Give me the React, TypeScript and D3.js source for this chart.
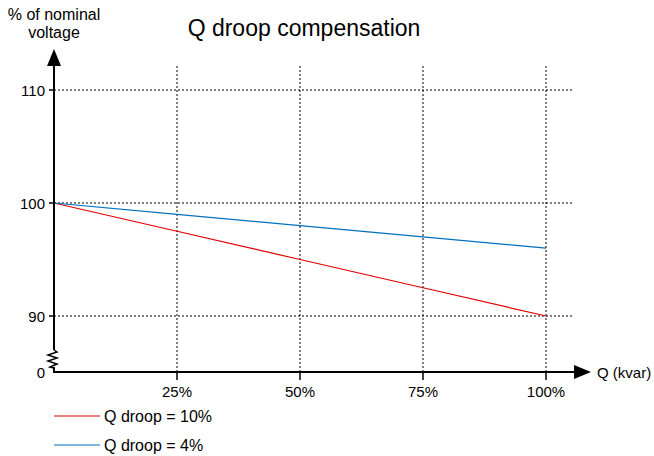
import React from "react";
import * as d3 from "d3";

const qLevels = [0, 25, 50, 75, 100];
const xTickLabels = ["25%", "50%", "75%", "100%"];
const xTickValues = [25, 50, 75, 100];
const yTickValues = [90, 100, 110];
const droop10 = [100, 97.5, 95, 92.5, 90];
const droop4 = [100, 99, 98, 97, 96];
const seriesNames = ["Q droop = 10%", "Q droop = 4%"];
const seriesColors = ["#e00000", "#0070c0"];

const W = 654;
const H = 456;
const left = 54;
const baseY = 372;
const font = "'Liberation Sans', Arial, sans-serif";

export default function App() {
  const x = d3.scaleLinear().domain([0, 100]).range([left, 546]);
  const y = d3.scaleLinear().domain([90, 110]).range([316, 90]);
  const line = d3
    .line<number>()
    .x((_, i) => x(qLevels[i]))
    .y((d) => y(d));
  const series = [droop10, droop4];
  const gridRight = 572;
  const gridTop = 66;
  const zz = [350, 367];
  const zigzag = `M${left},${zz[0]} L${left + 3},${zz[0] + 2} L${left - 6},${zz[0] + 5} L${left + 3},${zz[0] + 8} L${left - 6},${zz[0] + 11} L${left + 3},${zz[0] + 14} L${left - 4},${zz[1]} L${left},${zz[1] + 1}`;
  return (
    <svg
      width={W}
      height={H}
      style={{ position: "absolute", left: 0, top: 0, background: "#fff" }}
      fontFamily={font}
    >
      <rect width={W} height={H} fill="#fff" />
      <text x={304} y={36} fontSize={23} textAnchor="middle" fill="#000">
        Q droop compensation
      </text>
      <text x={54} y={20} fontSize={16} textAnchor="middle" fill="#000">
        % of nominal
      </text>
      <text x={54} y={38} fontSize={16} textAnchor="middle" fill="#000">
        voltage
      </text>
      {/* horizontal gridlines */}
      {yTickValues.map((v) => (
        <g key={v}>
          <line x1={left} x2={gridRight} y1={y(v)} y2={y(v)} stroke="#000" strokeWidth={1} strokeDasharray="2,2" />
          <line x1={left - 5} x2={left} y1={y(v)} y2={y(v)} stroke="#000" strokeWidth={1.5} />
          <text x={45} y={y(v) + 6} fontSize={15} textAnchor="end" fill="#000">
            {v}
          </text>
        </g>
      ))}
      {/* vertical gridlines */}
      {xTickValues.map((v, i) => (
        <g key={v}>
          <line x1={x(v)} x2={x(v)} y1={gridTop} y2={baseY} stroke="#000" strokeWidth={1} strokeDasharray="2,2" />
          <line x1={x(v)} x2={x(v)} y1={baseY} y2={baseY + 8} stroke="#000" strokeWidth={1.5} />
          <text x={x(v)} y={baseY + 25} fontSize={15} textAnchor="middle" fill="#000">
            {xTickLabels[i]}
          </text>
        </g>
      ))}
      <text x={45} y={baseY + 6} fontSize={15} textAnchor="end" fill="#000">
        0
      </text>
      {/* series */}
      {series.map((s, i) => (
        <path key={i} d={line(s) || ""} fill="none" stroke={seriesColors[i]} strokeWidth={1.2} />
      ))}
      {/* y axis */}
      <line x1={left} x2={left} y1={64} y2={zz[0]} stroke="#000" strokeWidth={2} />
      <path d={zigzag} fill="none" stroke="#000" strokeWidth={1.5} />
      <line x1={left} x2={left} y1={zz[1]} y2={baseY + 1} stroke="#000" strokeWidth={2} />
      <path d={`M${left},49 L${left - 7},66 L${left + 7},66 Z`} fill="#000" />
      {/* x axis */}
      <line x1={left - 1} x2={577} y1={baseY} y2={baseY} stroke="#000" strokeWidth={2} />
      <path d={`M591,${baseY} L574,${baseY - 7} L574,${baseY + 7} Z`} fill="#000" />
      <text x={597} y={baseY + 6} fontSize={15} fill="#000">
        Q (kvar)
      </text>
      {/* legend */}
      {seriesNames.map((n, i) => (
        <g key={n}>
          <line x1={54} x2={100} y1={416 + i * 29} y2={416 + i * 29} stroke={seriesColors[i]} strokeWidth={1.2} />
          <text x={104} y={422 + i * 29} fontSize={16} fill="#000">
            {n}
          </text>
        </g>
      ))}
    </svg>
  );
}
